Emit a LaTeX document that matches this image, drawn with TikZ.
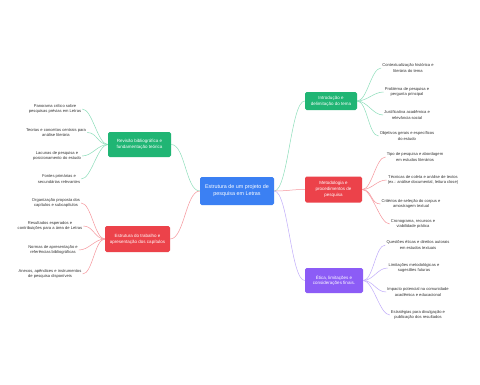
\documentclass[tikz,border=0pt]{standalone}
\usepackage{fontspec}
\setmainfont{Liberation Sans}
\definecolor{cgreen}{RGB}{32,181,116}
\definecolor{cred}{RGB}{236,66,74}
\definecolor{cpurple}{RGB}{140,92,246}
\definecolor{cblue}{RGB}{59,128,243}
\definecolor{lgreen}{RGB}{140,222,186}
\definecolor{lred}{RGB}{246,150,156}
\definecolor{lpurple}{RGB}{192,172,250}
\begin{document}
\begin{tikzpicture}[x=1pt,y=-1pt,
  box/.style={rounded corners=1.6pt, text=white, align=center, inner sep=1pt,
    font=\fontsize{4.5}{5.8}\selectfont},
  leaf/.style={align=center, inner sep=1pt, text=black!80,
    font=\fontsize{4.1}{5.3}\selectfont},
  conn/.style={line width=0.5pt},
]
\useasboundingbox[fill=white] (0,0) rectangle (480,384);

% center
\node[box, fill=cblue, minimum width=74pt, minimum height=28pt,
  font=\fontsize{5.4}{7}\selectfont] (c) at (237,191)
  {Estrutura de um projeto de\\pesquisa em Letras};

% branches
\node[box, fill=cgreen, minimum width=52pt, minimum height=18pt] (rg) at (331,101)
  {Introdução e\\delimitação do tema};
\node[box, fill=cred, minimum width=57pt, minimum height=26pt] (rr) at (333.5,189.5)
  {Metodologia e\\procedimentos de\\pesquisa};
\node[box, fill=cpurple, minimum width=58pt, minimum height=25pt] (rp) at (334,280.5)
  {Ética, limitações e\\considerações finais.};
\node[box, fill=cgreen, minimum width=63pt, minimum height=25pt] (lg) at (139.5,144.5)
  {Revisão bibliográfica e\\fundamentação teórica};
\node[box, fill=cred, minimum width=65pt, minimum height=26pt] (lr) at (137.5,239)
  {Estrutura do trabalho e\\apresentação dos capítulos};

% center connectors
\draw[conn, lgreen] (c.east) .. controls +(14,0) and +(-14,0) .. (rg.west);
\draw[conn, lred] (c.east) .. controls +(14,0) and +(-14,0) .. (rr.west);
\draw[conn, lpurple] (c.east) .. controls +(14,0) and +(-14,0) .. (rp.west);
\draw[conn, lgreen] (c.west) .. controls +(-14,0) and +(14,0) .. (lg.east);
\draw[conn, lred] (c.west) .. controls +(-14,0) and +(14,0) .. (lr.east);

% right green leaves
\node[leaf] (rg1) at (408,68) {Contextualização histórica e\\literária do tema};
\node[leaf] (rg2) at (407,92) {Problema de pesquisa e\\pergunta principal};
\node[leaf] (rg3) at (407,115) {Justificativa acadêmica e\\relevância social};
\node[leaf] (rg4) at (407,136) {Objetivos gerais e específicos\\do estudo};
\foreach \n in {rg1,rg2,rg3,rg4}
  \draw[conn, lgreen] (rg.east) .. controls +(10,0) and +(-10,0) .. (\n.west);

% right red leaves
\node[leaf] (rr1) at (415,157) {Tipo de pesquisa e abordagem\\em estudos literários};
\node[leaf] (rr2) at (423,180) {Técnicas de coleta e análise de textos\\(ex.: análise documental, leitura close)};
\node[leaf] (rr3) at (411,204) {Critérios de seleção do corpus e\\amostragem textual};
\node[leaf] (rr4) at (413,224) {Cronograma, recursos e\\viabilidade prática};
\foreach \n in {rr1,rr2,rr3,rr4}
  \draw[conn, lred] (rr.east) .. controls +(10,0) and +(-10,0) .. (\n.west);

% right purple leaves
\node[leaf] (rp1) at (418,245) {Questões éticas e direitos autorais\\em estudos textuais};
\node[leaf] (rp2) at (414,268) {Limitações metodológicas e\\sugestões futuras};
\node[leaf] (rp3) at (418,292) {Impacto potencial na comunidade\\acadêmica e educacional};
\node[leaf] (rp4) at (418,315) {Estratégias para divulgação e\\publicação dos resultados};
\foreach \n in {rp1,rp2,rp3,rp4}
  \draw[conn, lpurple] (rp.east) .. controls +(10,0) and +(-10,0) .. (\n.west);

% left green leaves
\node[leaf] (lg1) at (55,109) {Panorama crítico sobre\\pesquisas prévias em Letras};
\node[leaf] (lg2) at (56,132.5) {Teorias e conceitos centrais para\\análise literária};
\node[leaf] (lg3) at (57,156) {Lacunas de pesquisa e\\posicionamento do estudo};
\node[leaf] (lg4) at (59,179) {Fontes primárias e\\secundárias relevantes};
\foreach \n in {lg1,lg2,lg3,lg4}
  \draw[conn, lgreen] (lg.west) .. controls +(-10,0) and +(10,0) .. (\n.east);

% left red leaves
\node[leaf] (lr1) at (56,203) {Organização proposta dos\\capítulos e subcapítulos};
\node[leaf] (lr2) at (50,226) {Resultados esperados e\\contribuições para a área de Letras};
\node[leaf] (lr3) at (53,250) {Normas de apresentação e\\referências bibliográficas};
\node[leaf] (lr4) at (50,274) {Anexos, apêndices e instrumentos\\de pesquisa disponíveis};
\foreach \n in {lr1,lr2,lr3,lr4}
  \draw[conn, lred] (lr.west) .. controls +(-10,0) and +(10,0) .. (\n.east);
\end{tikzpicture}
\end{document}
